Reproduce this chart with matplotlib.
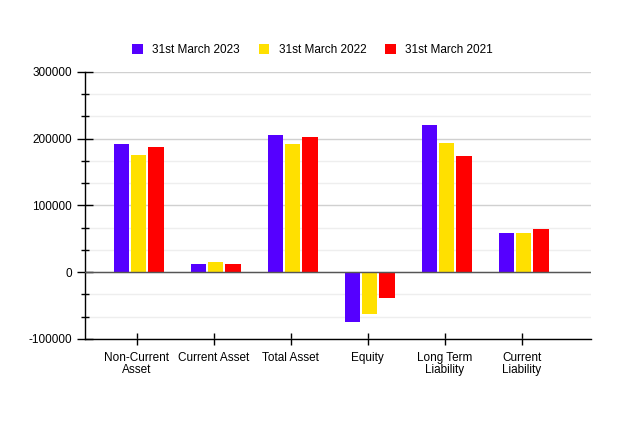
import matplotlib.pyplot as plt
import numpy as np
from matplotlib.ticker import MultipleLocator, FuncFormatter

plt.rcParams['font.family'] = ['Liberation Sans', 'DejaVu Sans']

categories = ["Non-Current\nAsset", "Current Asset", "Total Asset", "Equity",
              "Long Term\nLiability", "Current\nLiability"]
series = ["31st March 2023", "31st March 2022", "31st March 2021"]
v2023 = [192000, 13000, 205000, -74000, 220000, 59000]
v2022 = [175000, 16000, 192000, -62000, 193000, 59000]
v2021 = [188000, 13000, 202000, -38000, 174000, 65000]
colors = ["#5500ff", "#ffe000", "#ff0000"]

fig = plt.figure(figsize=(6.42, 4.44), dpi=100)
ax = fig.add_axes([0.1324, 0.2365, 0.788, 0.6014])

x = np.arange(len(categories))
w = 0.195
stride = 0.222
for i, (vals, lab, c) in enumerate(zip([v2023, v2022, v2021], series, colors)):
    ax.bar(x + (i - 1) * stride + 0.03, vals, w, color=c, label=lab, zorder=3)

ax.set_ylim(-100000, 300000)
ax.set_xlim(-0.67, 5.9)
ax.yaxis.set_major_locator(MultipleLocator(100000))
ax.yaxis.set_minor_locator(MultipleLocator(100000 / 3))
ax.yaxis.set_major_formatter(FuncFormatter(lambda v, p: "%d" % v))
ax.grid(which='major', axis='y', color='#d0d0d0', lw=1, zorder=0)
ax.grid(which='minor', axis='y', color='#eeeeee', lw=1, zorder=0)
ax.axhline(0, color='#555555', lw=1, zorder=4)

for s in ['top', 'right']:
    ax.spines[s].set_visible(False)
for s in ['left', 'bottom']:
    ax.spines[s].set_color('black')
    ax.spines[s].set_linewidth(1)

ax.set_xticks(x)
ax.set_xticklabels(categories, fontsize=8.5, linespacing=1.0)
ax.tick_params(axis='x', direction='inout', length=9, width=1, pad=5)
ax.tick_params(axis='y', which='major', direction='inout', length=12, width=1, labelsize=8.5)
ax.tick_params(axis='y', which='minor', direction='inout', length=6, width=1)

ax.legend(loc='lower center', bbox_to_anchor=(0.45, 1.02), ncol=3, frameon=False,
          fontsize=8.5, handlelength=0.9, handleheight=0.9, handletextpad=0.8,
          columnspacing=1.6)

fig.savefig("out.png", dpi=100)
